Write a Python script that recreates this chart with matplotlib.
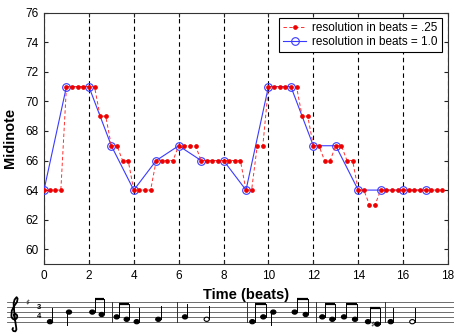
import numpy as np
import matplotlib
matplotlib.use("Agg")
import matplotlib.pyplot as plt
from matplotlib.patches import Ellipse

plt.rcParams['font.family'] = ['Liberation Sans', 'DejaVu Sans']

# ---------------- data ----------------
beats_coarse = [0, 1, 2, 3, 4, 5, 6, 7, 8, 9, 10, 11, 12, 13, 14, 15, 16, 17]
midi_coarse = [64, 71, 71, 67, 64, 66, 67, 66, 66, 64, 71, 71, 67, 67, 64, 64, 64, 64]

beats_fine = np.arange(0, 18, 0.25)
midi_fine = [64, 64, 64, 64,
             71, 71, 71, 71, 71, 71, 69, 69,
             67, 67, 66, 66,
             64, 64, 64, 64,
             66, 66, 66, 66,
             67, 67, 67, 67,
             66, 66, 66, 66, 66, 66, 66, 66,
             64, 64, 67, 67,
             71, 71, 71, 71, 71, 71, 69, 69,
             67, 67, 66, 66, 67, 67, 66, 66,
             64, 64, 63, 63,
             64, 64, 64, 64, 64, 64, 64, 64, 64, 64, 64, 64]

label_fine = "resolution in beats = .25"
label_coarse = "resolution in beats = 1.0"

x_ticks = [0, 2, 4, 6, 8, 10, 12, 14, 16, 18]
y_ticks = [60, 62, 64, 66, 68, 70, 72, 74, 76]

# score excerpt (pitch, duration in beats)
note_pitch = [64, 71, 71, 69, 67, 66, 64, 66, 67, 66,
              64, 67, 71, 71, 69, 67, 66, 67, 66, 64, 63, 64, 64]
note_dur = [1, 1, .5, .5, .5, .5, 1, 1, 1, 2,
            .5, .5, 1, .5, .5, .5, .5, .5, .5, .5, .5, 1, 2]

# engraving layout (pixels)
note_x = [50, 69, 92.3, 101.7, 116.7, 126.7, 136.7, 158.3, 185, 206.7,
          252.3, 263.3, 273.3, 294.7, 305.7, 322.3, 332.3, 344, 355, 368, 377.3,
          390.7, 412.3]
bar_x = [112, 177, 247, 315.7, 385]

# ---------------- figure ----------------
W, H = 454, 333
fig = plt.figure(figsize=(W / 100, H / 100), dpi=100)
ax = fig.add_axes([44 / W, 1 - 264 / H, 404 / W, 251.3 / H])

ax.set_xlim(0, 18)
ax.set_ylim(59, 76)
ax.set_xticks(x_ticks)
ax.set_yticks(y_ticks)
ax.tick_params(direction='in', top=True, right=True, labelsize=8.5, length=3,
               width=0.8, colors='#222222', labelcolor='black', pad=4)
for s in ax.spines.values():
    s.set_color('#333333')
    s.set_linewidth(0.8)

ax.xaxis.grid(True, linestyle=(0, (4, 3)), color='black', linewidth=0.8)

lc, = ax.plot(beats_coarse, midi_coarse, '-', color='#3a3aff', lw=0.8,
              marker='o', ms=5.5, mfc='none', mec='#3a3aff', mew=0.8,
              label=label_coarse, zorder=3)
lf, = ax.plot(beats_fine, midi_fine, linestyle=(0, (3.5, 2.5)), color='#ff3030', lw=0.7,
              marker='o', ms=2.8, mfc='#ee0000', mec='#ee0000', mew=0.5,
              label=label_fine, zorder=4)

leg = ax.legend(handles=[lf, lc], loc='upper right',
                bbox_to_anchor=(0.985, 0.979), borderaxespad=0,
                fontsize=8.5, fancybox=False, framealpha=1, edgecolor='black',
                handlelength=2.0, handletextpad=0.5, borderpad=0.35,
                labelspacing=0.15)
leg.get_frame().set_linewidth(0.8)

ax.set_xlabel("Time (beats)", fontsize=10.5, fontweight='bold', labelpad=5)
ax.set_ylabel("Midinote", fontsize=10.5, fontweight='bold', labelpad=6)

# ---------------- music staff ----------------
sax = fig.add_axes([0, 0, 1, 38 / H])
sax.set_xlim(0, W)
sax.set_ylim(-4.7, 11.1)
sax.axis('off')

step_of = {62: -1, 63: -1, 64: 0, 66: 1, 67: 2, 69: 3, 71: 4, 72: 5, 74: 6}

for k in range(5):
    sax.plot([7, W], [2 * k, 2 * k], color='#555555', lw=0.6)
for bx in bar_x:
    sax.plot([bx, bx], [0, 8], color='#333333', lw=0.7)

# treble clef (no installed font has U+1D11E, so it is drawn as a stroke)
cx, cy = 15.0, 2.4
ang = np.linspace(np.pi + 2.1 * np.pi, np.pi, 40)
rad = np.linspace(0.6, 3.6, 40)
sx = cx + rad * np.cos(ang)
sy = cy + rad * np.sin(ang) / 2.4 * 1.0 * 2.4 / 2.0
up_x = [sx[-1], 11.8, 14.0, 17.0, 17.6, 16.6, 14.6, 13.6]
up_y = [sy[-1], 4.6, 6.4, 8.2, 9.6, 10.2, 9.2, 7.6]
dn_x = [13.6, 14.6, 16.2, 16.4, 15.4, 13.4, 12.4, 13.0]
dn_y = [7.6, 2.0, -2.4, -3.3, -4.0, -3.9, -3.2, -2.6]
clef_x = np.concatenate([sx, up_x[1:], dn_x[1:]])
clef_y = np.concatenate([sy, up_y[1:], dn_y[1:]])
sax.plot(clef_x, clef_y, color='black', lw=1.3, solid_capstyle='round',
         solid_joinstyle='round')

sax.text(27, 8, '\u266F', fontsize=6, ha='center', va='center', family='DejaVu Sans')
sax.text(39, 6, '3', fontsize=5.5, ha='center', va='center', fontweight='bold')
sax.text(39, 2, '4', fontsize=5.5, ha='center', va='center', fontweight='bold')

stem_len = 5.5
steps = [step_of[p] for p in note_pitch]
# beaming: pair consecutive eighth notes
beamed = [False] * len(note_pitch)
i = 0
groups = []
while i < len(note_pitch) - 1:
    if note_dur[i] == 0.5 and note_dur[i + 1] == 0.5:
        groups.append((i, i + 1))
        beamed[i] = beamed[i + 1] = True
        i += 2
    else:
        i += 1

for xi, st, d, p, b in zip(note_x, steps, note_dur, note_pitch, beamed):
    fc = 'white' if d >= 2 else 'black'
    sax.add_patch(Ellipse((xi, st), 5.2, 1.75, facecolor=fc, edgecolor='black',
                          lw=0.8, zorder=3))
    if p == 63:
        sax.text(xi - 5, st, '\u266F', fontsize=6, ha='center', va='center',
                 family='DejaVu Sans')
    if not b:
        if st >= 4:
            sax.plot([xi - 2.4, xi - 2.4], [st, st - stem_len], color='black', lw=0.7)
        else:
            sax.plot([xi + 2.4, xi + 2.4], [st, st + stem_len], color='black', lw=0.7)

for a, c in groups:
    top = max(steps[a], steps[c]) + stem_len
    for j in (a, c):
        sax.plot([note_x[j] + 2.4, note_x[j] + 2.4], [steps[j], top], color='black', lw=0.7)
    sax.plot([note_x[a] + 2.4, note_x[c] + 2.4], [top, top], color='black', lw=1.6,
             solid_capstyle='butt')

fig.savefig("out.png", dpi=100)
